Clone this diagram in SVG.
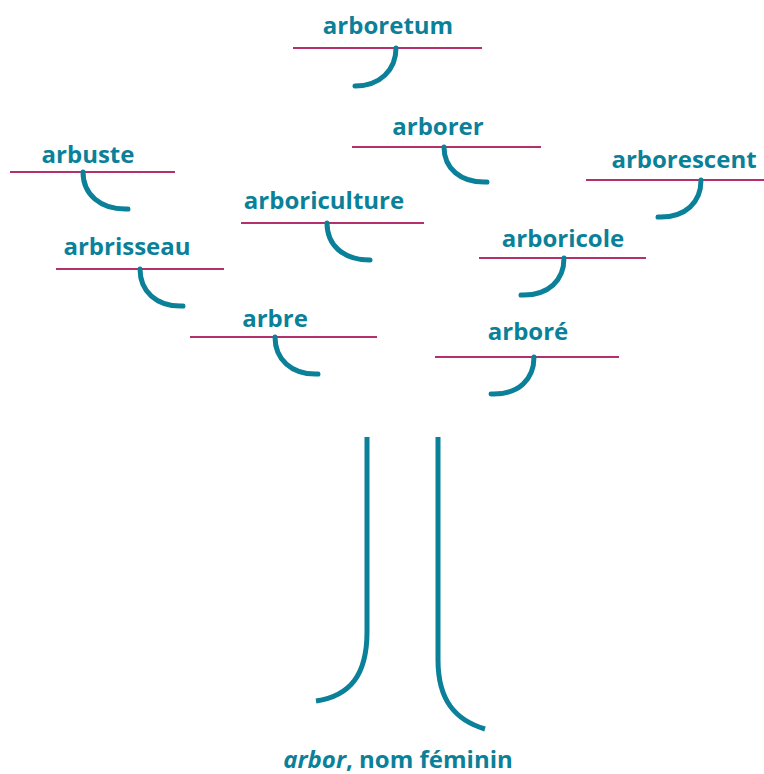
<svg xmlns="http://www.w3.org/2000/svg" width="764" height="774" viewBox="0 0 764 774">
<style>
.w{font-family:"Open Sans","DejaVu Sans",sans-serif;font-weight:700;font-size:24px;fill:#0b8099;text-anchor:middle}
.u{stroke:#b3306a;stroke-width:2;fill:none}
.h{stroke:#0b8099;stroke-width:5;fill:none;stroke-linecap:round}
.t{stroke:#0b8099;stroke-width:5;fill:none}
</style>
<rect width="764" height="774" fill="#fff"/>
<g id="arboretum"><text class="w" x="388" y="34">arboretum</text><line class="u" x1="293" y1="48" x2="482" y2="48"/><path class="h" d="M396,48 C396,70 380,86 355,86"/></g>
<g id="arborer"><text class="w" x="438" y="135">arborer</text><line class="u" x1="352" y1="147" x2="541" y2="147"/><path class="h" d="M444,147 C444,168 460,183 487,182"/></g>
<g id="arbuste"><text class="w" x="88" y="163">arbuste</text><line class="u" x1="10" y1="172" x2="175" y2="172"/><path class="h" d="M83,172 C83,194 100,210 128,209"/></g>
<g id="arborescent"><text class="w" x="684" y="168">arborescent</text><line class="u" x1="586" y1="180" x2="764" y2="180"/><path class="h" d="M701,180 C701,202 686,218 658,217"/></g>
<g id="arboriculture"><text class="w" x="324" y="209">arboriculture</text><line class="u" x1="241" y1="223" x2="424" y2="223"/><path class="h" d="M327,223 C327,245 343,260 370,260"/></g>
<g id="arbrisseau"><text class="w" x="127" y="255">arbrisseau</text><line class="u" x1="56" y1="269" x2="224" y2="269"/><path class="h" d="M140,269 C140,291 156,307 183,306"/></g>
<g id="arboricole"><text class="w" x="563" y="247">arboricole</text><line class="u" x1="479" y1="258" x2="646" y2="258"/><path class="h" d="M564,258 C564,280 549,296 521,295"/></g>
<g id="arbre"><text class="w" x="275" y="327">arbre</text><line class="u" x1="190" y1="337" x2="377" y2="337"/><path class="h" d="M275,337 C275,359 291,375 318,374"/></g>
<g id="arbore"><text class="w" x="528" y="340">arboré</text><line class="u" x1="435" y1="357" x2="619" y2="357"/><path class="h" d="M534,357 C534,379 519,395 491,394"/></g>
<g id="trunk"><path class="t" d="M367,437 V632 C367,675 350,696 316,701"/><path class="t" d="M438,437 V660 C438,700 455,720 485,729"/></g>
<text class="w" x="398" y="768"><tspan font-style="italic">arbor</tspan>, nom féminin</text>
</svg>
